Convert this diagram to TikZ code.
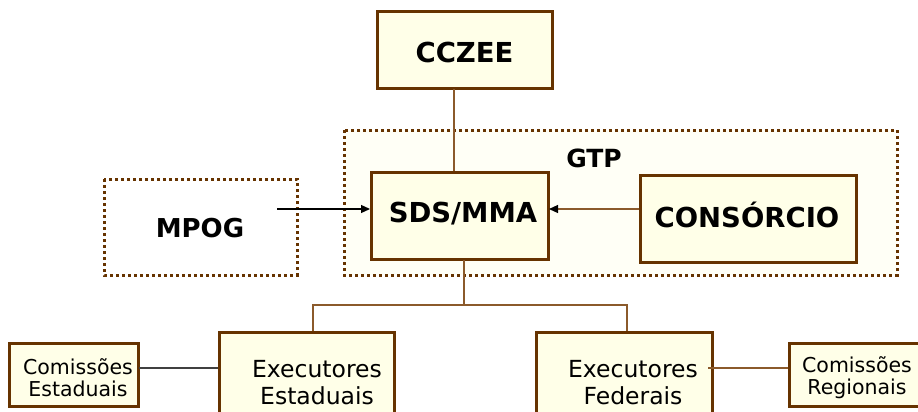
\documentclass[tikz,border=0pt]{standalone}
\usepackage{fontspec}
\setmainfont{DejaVu Sans}
\usetikzlibrary{arrows.meta}
\definecolor{bord}{HTML}{663300}
\definecolor{fillY}{HTML}{FFFFE8}
\definecolor{gtpfill}{HTML}{FFFFF6}
\definecolor{conn}{HTML}{8B5A2B}
\tikzset{
  box/.style={draw=bord, line width=3pt, fill=fillY, inner sep=0pt},
  dotbox/.style={draw=bord, line width=3pt, dash pattern=on 3pt off 3pt, inner sep=0pt},
  big/.style={font=\fontsize{27.5}{32}\selectfont\bfseries},
  small/.style={font=\fontsize{20.5}{22}\selectfont, align=center},
  mid/.style={font=\fontsize{23.5}{27}\selectfont, align=center},
  link/.style={draw=conn, line width=1.2pt},
  arr/.style={-{Triangle[length=9pt,width=8pt]}}
}
\begin{document}
\begin{tikzpicture}[x=1pt,y=-1pt]
\useasboundingbox (0,0) rectangle (918,412);
\fill[white] (0,0) rectangle (918,412);
% GTP group
\draw[dotbox, fill=gtpfill] (344,130) rectangle (897,275);
\node[font=\fontsize{25}{28}\selectfont\bfseries] (gtp) at (594,158) {GTP};
% MPOG group
\draw[dotbox, fill=white] (104,179) rectangle (297,275);
\node[font=\fontsize{26}{30}\selectfont\bfseries] (mpog) at (200,228) {MPOG};
% boxes
\draw[box] (377,12) rectangle (552,88);
\node[big] (cczee) at (464.5,52) {CCZEE};
\draw[box] (371,172) rectangle (548,259);
\node[big] (sds) at (463,214) {SDS/MMA};
\draw[box] (640,175) rectangle (856,262);
\node[big] (cons) at (747,215) {CONSÓRCIO};
\draw[box] (219,332) rectangle (394,430);
\node[mid] (exe) at (317,383) {Executores\\Estaduais};
\draw[box] (536,332) rectangle (712,430);
\node[mid] (exf) at (633,383) {Executores\\Federais};
\draw[box] (9,343) rectangle (138,406);
\node[small] (ces) at (78,378) {Comissões\\Estaduais};
\draw[box] (789,343) rectangle (930,406);
\node[small] (crg) at (857,378) {Comissões\\Regionais};
% named anchors
\coordinate (cczeeB) at (454,89);
\coordinate (sdsT) at (454,171);
\coordinate (sdsB) at (464,260);
\coordinate (split) at (464,305);
\coordinate (exeT) at (313,331);
\coordinate (exfT) at (627,331);
\coordinate (mpogS) at (277,209);
\coordinate (sdsL) at (370,209);
\coordinate (consL) at (639,209);
\coordinate (sdsR) at (549,209);
\coordinate (cesR) at (139,368);
\coordinate (exeL) at (218,368);
\coordinate (exfR) at (708,368);
\coordinate (crgL) at (788,368);
% connectors
\draw[link] (cczeeB) -- (sdsT);
\draw[link] (sdsB) -- (split);
\draw[link] (exeT) |- (split) -| (exfT);
\draw[black, line width=1.2pt, arr] (mpogS) -- (sdsL);
\draw[link, -{Triangle[length=9pt,width=8pt,color=black]}] (consL) -- (sdsR);
\draw[draw=black!75, line width=1.2pt] (cesR) -- (exeL);
\draw[link] (exfR) -- (crgL);
\end{tikzpicture}
\end{document}
